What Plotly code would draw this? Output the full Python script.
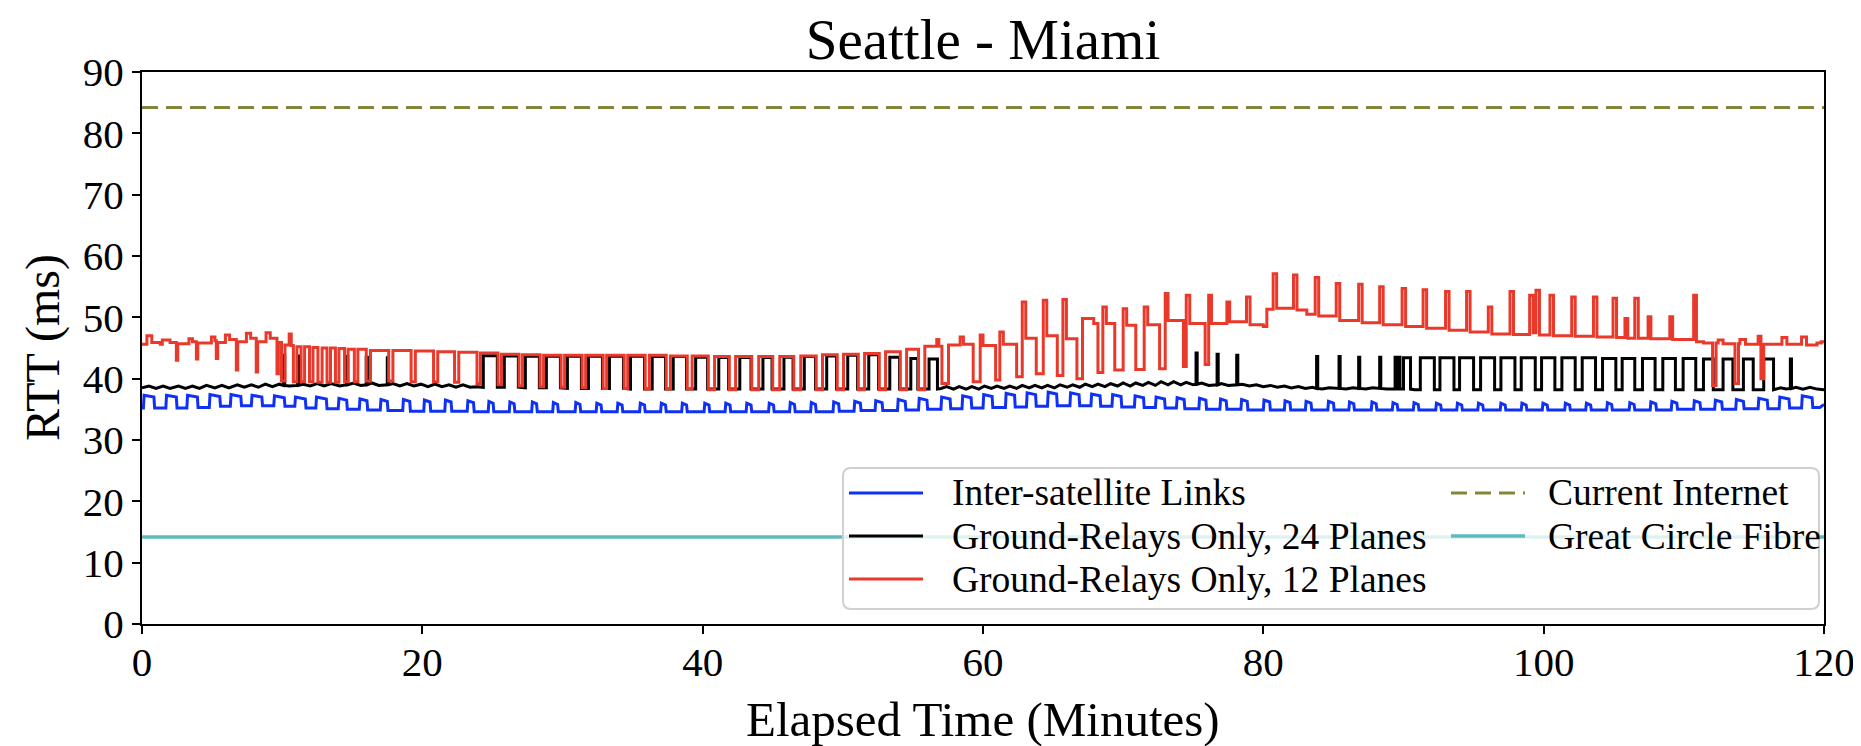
import plotly.graph_objects as go

# ------------------------------------------------------------------ data
title_text = "Seattle - Miami"
x_title = "Elapsed Time (Minutes)"
y_title = "RTT (ms)"
x_ticks = [0, 20, 40, 60, 80, 100, 120]
y_ticks = [0, 10, 20, 30, 40, 50, 60, 70, 80, 90]

series_names = ["Inter-satellite Links", "Ground-Relays Only, 24 Planes",
                "Ground-Relays Only, 12 Planes", "Current Internet", "Great Circle Fibre"]

current_internet_ms = 84.2
great_circle_fibre_ms = 14.2

# Inter-satellite links: one entry per bump (rise time, top value, base value, top duration)
isl_rise = [0.1, 1.7, 3.2, 4.8, 6.3, 7.8, 9.4, 10.9, 12.4, 14.0,
            15.5, 17.0, 18.6, 20.1, 21.6, 23.2, 24.7, 26.2, 27.8, 29.3,
            30.9, 32.4, 33.9, 35.5, 37.0, 38.5, 40.1, 41.6, 43.1, 44.7,
            46.2, 47.7, 49.3, 50.8, 52.3, 53.9, 55.4, 57.0, 58.5, 60.0,
            61.6, 63.1, 64.6, 66.2, 67.7, 69.2, 70.8, 72.3, 73.8, 75.4,
            76.9, 78.4, 80.0, 81.5, 83.0, 84.6, 86.1, 87.7, 89.2, 90.7,
            92.3, 93.8, 95.3, 96.9, 98.4, 99.9, 101.5, 103.0, 104.5, 106.1,
            107.6, 109.1, 110.7, 112.2, 113.7, 115.3, 116.8, 118.4]
isl_top = [37.3, 37.3, 37.3, 37.4, 37.4, 37.3, 37.2, 37.0, 37.0, 36.8,
           36.7, 36.6, 36.6, 36.5, 36.5, 36.4, 36.3, 36.2, 36.2, 36.1,
           36.1, 36.0, 36.0, 36.0, 36.0, 36.0, 36.0, 36.0, 36.0, 36.0,
           36.1, 36.1, 36.2, 36.3, 36.4, 36.6, 36.8, 37.0, 37.2, 37.4,
           37.6, 37.7, 37.8, 37.7, 37.5, 37.4, 37.2, 37.0, 36.9, 36.8,
           36.7, 36.6, 36.5, 36.4, 36.3, 36.3, 36.2, 36.2, 36.1, 36.1,
           36.0, 36.0, 36.0, 36.0, 36.0, 36.0, 36.0, 36.0, 36.1, 36.1,
           36.2, 36.3, 36.4, 36.5, 36.6, 36.8, 37.0, 37.2]
isl_base = [35.2, 35.2, 35.3, 35.5, 35.6, 35.6, 35.5, 35.2, 35.1, 35.0,
            34.9, 34.8, 34.7, 34.7, 34.7, 34.6, 34.6, 34.6, 34.6, 34.6,
            34.6, 34.6, 34.6, 34.6, 34.6, 34.6, 34.6, 34.6, 34.6, 34.6,
            34.6, 34.6, 34.7, 34.8, 34.8, 34.9, 35.0, 35.1, 35.2, 35.3,
            35.4, 35.5, 35.6, 35.6, 35.5, 35.4, 35.3, 35.2, 35.1, 35.0,
            35.0, 34.9, 34.9, 34.9, 34.9, 34.9, 34.9, 34.9, 34.9, 34.9,
            34.9, 34.9, 34.9, 34.9, 34.9, 34.9, 34.9, 34.9, 34.9, 34.9,
            34.9, 35.0, 35.0, 35.0, 35.1, 35.1, 35.2, 35.3]
isl_width = [0.8, 0.8, 0.8, 0.8, 0.8, 0.8, 0.8, 0.8, 0.8, 0.65,
             0.6, 0.55, 0.55, 0.5, 0.5, 0.5, 0.4, 0.4, 0.4, 0.4,
             0.4, 0.4, 0.4, 0.4, 0.4, 0.4, 0.4, 0.4, 0.4, 0.4,
             0.4, 0.4, 0.45, 0.5, 0.55, 0.6, 0.65, 0.7, 0.7, 0.7,
             0.7, 0.7, 0.7, 0.7, 0.7, 0.7, 0.7, 0.7, 0.6, 0.55,
             0.5, 0.5, 0.5, 0.45, 0.45, 0.45, 0.4, 0.4, 0.4, 0.4,
             0.4, 0.4, 0.4, 0.4, 0.4, 0.4, 0.4, 0.4, 0.4, 0.4,
             0.45, 0.45, 0.5, 0.55, 0.6, 0.7, 0.75, 0.8]
isl_start = (0.0, 35.2)
isl_tail = [(119.7, 35.3), (120.0, 35.8)]

# Ground relays, 24 planes: wavy baseline knots (minute, ms)
gr24_knots = [
    (0.0, 38.5), (0.5, 38.8), (1.0, 38.4), (1.5, 38.8), (2.0, 38.4), (2.6, 38.8),
    (3.1, 38.4), (3.6, 38.8), (4.1, 38.4), (4.6, 38.9), (5.2, 38.5), (5.7, 38.9),
    (6.2, 38.5), (6.8, 39.0), (7.3, 38.6), (7.8, 39.0), (8.3, 38.6), (8.8, 39.1),
    (9.3, 38.7), (9.8, 39.1), (10.5, 38.8), (11.5, 39.1), (12.0, 38.8), (12.5, 39.2),
    (13.0, 38.8), (13.5, 39.2), (14.1, 38.8), (15.1, 39.3), (15.6, 38.9), (16.4, 39.3),
    (16.9, 38.9), (17.9, 39.2), (18.4, 38.8), (18.9, 39.2), (19.4, 38.8), (19.9, 39.1),
    (20.4, 38.7), (20.9, 39.1), (21.4, 38.7), (21.9, 39.0), (22.4, 38.6), (22.9, 39.0),
    (23.4, 38.6), (23.9, 38.7),
    (57.0, 38.4), (57.4, 38.7), (57.9, 38.3), (58.3, 38.7), (58.8, 38.3), (59.2, 38.7),
    (59.7, 38.3), (60.1, 38.8), (60.6, 38.4), (61.0, 38.8), (61.5, 38.4), (61.9, 38.8),
    (62.4, 38.4), (62.8, 38.9), (63.3, 38.5), (63.7, 38.9), (64.2, 38.5), (64.6, 38.9),
    (65.1, 38.5), (65.5, 39.0), (66.0, 38.6), (66.4, 39.0), (66.9, 38.6), (67.3, 39.1),
    (67.8, 38.7), (68.2, 39.1), (68.7, 38.7), (69.1, 39.2), (69.6, 38.8), (70.0, 39.3),
    (70.5, 38.8), (70.9, 39.3), (71.4, 38.9), (71.8, 39.4), (72.3, 38.9), (72.7, 39.5),
    (73.2, 39.0), (73.6, 39.5), (74.1, 39.0), (74.5, 39.4), (75.0, 39.0), (75.6, 39.3),
    (76.1, 38.9), (77.0, 39.2), (77.5, 38.9), (78.5, 39.1), (79.0, 38.8), (79.5, 39.0),
    (80.0, 38.7), (80.5, 38.9), (81.0, 38.6), (81.5, 38.8), (82.0, 38.5), (82.5, 38.7),
    (83.0, 38.4), (83.5, 38.6), (84.2, 38.3), (84.7, 38.5), (85.9, 38.3), (86.4, 38.5),
    (87.3, 38.3), (87.8, 38.5), (88.8, 38.3), (90.8, 38.2),
    (116.9, 38.5), (117.3, 38.3), (118.0, 38.6), (118.5, 38.3), (119.0, 38.6),
    (119.5, 38.3), (120.0, 38.2),
]
# Ground relays, 24 planes: pulses (rise minute, fall minute, high ms, low ms)
gr24_rise = [10.1, 11.1, 14.6, 16.0, 17.5,
             24.35, 25.85, 27.35, 28.85, 30.35, 31.85, 33.35, 34.85, 36.4, 37.9, 39.5,
             41.15, 42.65, 44.3, 45.8, 47.25, 48.85, 50.35, 51.85, 53.35, 54.85, 56.15,
             75.2, 76.7, 78.1, 83.8, 85.4, 86.8, 88.3, 89.4, 89.65, 90.0,
             91.2, 92.6, 94.0, 95.5, 96.95, 98.4, 99.85, 101.3, 102.75, 104.2, 105.6,
             107.05, 108.5, 109.95, 111.4, 112.8, 114.25, 115.7, 117.6]
gr24_fall = [10.18, 11.18, 14.68, 16.08, 17.58,
             25.35, 26.85, 28.35, 29.85, 31.35, 32.85, 34.35, 35.85, 37.35, 38.85, 40.35,
             41.85, 43.45, 44.95, 46.45, 48.05, 49.55, 51.05, 52.55, 54.05, 55.35, 56.75,
             75.28, 76.78, 78.18, 83.88, 85.48, 86.88, 88.38, 89.5, 89.75, 90.5,
             92.2, 93.6, 95.0, 96.5, 97.95, 99.4, 100.8, 102.25, 103.7, 105.15, 106.5,
             107.95, 109.4, 110.85, 112.1, 113.5, 114.95, 116.4, 117.68]
gr24_high = [43.8, 43.7, 43.6, 43.5, 43.4,
             43.75, 43.7, 43.65, 43.65, 43.65, 43.65, 43.65, 43.65, 43.6, 43.6, 43.5,
             43.45, 43.45, 43.45, 43.5, 43.6, 43.7, 43.8, 43.9, 43.5, 43.3, 43.2,
             44.2, 44.0, 43.8, 43.6, 43.6, 43.5, 43.5, 43.5, 43.5, 43.4,
             43.4, 43.4, 43.4, 43.4, 43.4, 43.4, 43.4, 43.4, 43.4, 43.3, 43.3,
             43.3, 43.3, 43.3, 43.2, 43.2, 43.2, 43.2, 43.2]
gr24_low = [38.9, 38.9, 39.0, 39.0, 39.0,
            38.6, 38.6, 38.5, 38.5, 38.4, 38.4, 38.4, 38.3, 38.3, 38.3, 38.3,
            38.3, 38.3, 38.3, 38.3, 38.3, 38.3, 38.3, 38.3, 38.3, 38.3, 38.3,
            39.1, 39.0, 39.0, 38.4, 38.4, 38.4, 38.4, 38.3, 38.3, 38.3,
            38.2, 38.2, 38.2, 38.2, 38.2, 38.2, 38.2, 38.2, 38.2, 38.2, 38.2,
            38.2, 38.2, 38.2, 38.2, 38.2, 38.2, 38.2, 38.4]

# Ground relays, 12 planes: step changes (minute, ms) - the value holds until the next step
gr12_steps = [
    (0.0, 45.6), (0.35, 47.0), (0.7, 45.9), (1.3, 45.6), (1.45, 46.3), (2.0, 45.9),
    (2.45, 43.0), (2.55, 45.7), (3.35, 46.5), (3.6, 46.0), (3.88, 43.2), (3.98, 45.8),
    (4.95, 46.8), (5.2, 46.2), (5.3, 43.3), (5.4, 45.9), (5.95, 47.1), (6.25, 46.4),
    (6.73, 41.4), (6.83, 46.0), (7.45, 47.4), (7.75, 46.6), (8.15, 41.1), (8.25, 46.0),
    (8.85, 47.5), (9.15, 46.6), (9.63, 40.8), (9.73, 45.9),
    (9.95, 39.6), (10.2, 45.5), (10.5, 47.3), (10.65, 45.4), (10.8, 39.5), (11.05, 45.2),
    (11.35, 39.5), (11.6, 45.2), (11.95, 39.5), (12.2, 45.1), (12.55, 39.4), (12.85, 45.0),
    (13.2, 39.4), (13.45, 45.0), (13.8, 39.4), (14.05, 44.9), (14.45, 39.5), (14.7, 44.8),
    (15.15, 39.5), (15.4, 44.8),
    (16.0, 39.6), (16.3, 44.6), (17.6, 39.6), (17.9, 44.6), (19.2, 39.5), (19.5, 44.5),
    (20.8, 39.5), (21.1, 44.4), (22.3, 39.4), (22.6, 44.3), (23.9, 39.2), (24.15, 44.2),
    (25.4, 39.0), (25.65, 44.0), (26.9, 38.8), (27.15, 43.9), (28.4, 38.7), (28.65, 43.8),
    (29.9, 38.6), (30.15, 43.8), (31.4, 38.5), (31.65, 43.8), (32.9, 38.4), (33.15, 43.8),
    (34.4, 38.4), (34.65, 43.8), (35.9, 38.3), (36.2, 43.8), (37.4, 38.3), (37.7, 43.7),
    (38.9, 38.3), (39.25, 43.7), (40.4, 38.2), (40.85, 43.6), (41.9, 38.2), (42.35, 43.6),
    (43.5, 38.2), (44.0, 43.6), (45.0, 38.2), (45.5, 43.6), (46.5, 38.2), (47.0, 43.7),
    (48.1, 38.2), (48.55, 43.9), (49.6, 38.2), (50.05, 44.0), (51.1, 38.2), (51.55, 44.1),
    (52.6, 38.2), (53.05, 44.4), (54.1, 38.2), (54.55, 44.8), (55.4, 38.2), (55.85, 45.3),
    (56.7, 46.4), (56.85, 45.3),
    (57.07, 39.2), (57.54, 45.5), (58.37, 46.8), (58.6, 45.6), (59.3, 39.5), (59.8, 47.1),
    (60.0, 45.4), (60.9, 39.8), (61.2, 47.6), (61.45, 45.6), (62.4, 40.3), (62.8, 52.5),
    (63.05, 46.6), (63.8, 40.8), (64.3, 52.8), (64.55, 47.0), (65.3, 40.5), (65.7, 52.9),
    (65.95, 46.5), (66.7, 40.0), (67.1, 49.8), (67.9, 49.0), (68.2, 41.0), (68.55, 51.7),
    (68.8, 49.0), (69.4, 41.4), (70.0, 51.4), (70.25, 48.7), (70.9, 41.5), (71.5, 51.7),
    (71.75, 48.8), (72.6, 41.6), (73.0, 53.9), (73.2, 49.5), (74.3, 42.0), (74.5, 53.6),
    (74.75, 49.0), (75.85, 42.3), (76.1, 53.6), (76.3, 49.0), (77.4, 52.5), (77.6, 49.3),
    (78.8, 53.3), (79.05, 48.8), (80.0, 48.5), (80.25, 51.3), (80.7, 57.1), (80.95, 51.5),
    (82.15, 56.9), (82.4, 51.2), (83.1, 50.5), (83.7, 56.5), (83.95, 50.2), (85.2, 55.5),
    (85.45, 49.5), (86.8, 55.4), (87.05, 49.1), (88.3, 55.0), (88.55, 48.8), (89.9, 54.7),
    (90.15, 48.5), (91.4, 54.5), (91.65, 48.2), (93.0, 54.2), (93.25, 47.9), (94.5, 54.2),
    (94.75, 47.6), (96.05, 51.7), (96.3, 47.3), (97.6, 54.2), (97.85, 47.2), (99.0, 53.6),
    (99.25, 47.5), (99.45, 54.4), (99.7, 47.1), (100.45, 53.6), (100.7, 47.0), (102.0, 53.3),
    (102.25, 46.9), (103.55, 53.3), (103.8, 46.8), (104.95, 53.1), (105.2, 46.7), (105.8, 49.8),
    (106.0, 46.6), (106.5, 53.1), (106.75, 46.6), (107.45, 50.1), (107.65, 46.5), (109.0, 50.1),
    (109.2, 46.4), (110.7, 53.6), (110.9, 46.0), (111.4, 45.8), (112.05, 38.9), (112.3, 45.8),
    (112.45, 46.3), (112.8, 45.7), (113.65, 39.2), (113.9, 45.7), (114.0, 46.4), (114.4, 45.6),
    (115.3, 46.9), (115.5, 40.0), (115.7, 45.6), (117.0, 46.7), (117.35, 45.6), (118.4, 46.8),
    (118.75, 45.5), (119.5, 45.8), (119.8, 46.0), (120.0, 46.0),
]

# ------------------------------------------------------------------ style
FONT = "Liberation Serif"
C_ISL = "#0f30f5"
C_GR24 = "#000000"
C_GR12 = "#e8392b"
C_NET = "#85853a"
C_GCF = "#5dbdbe"
LW = 3.0

W, H = 1861, 746
L, R, T, B = 134, 45, 64, 130
PW, PH = W - L - R, H - T - B


def px_x(px):
    return (px - L) / PW


def px_y(py):
    return (H - B - py) / PH


# ------------------------------------------------------------------ build series
isl_x, isl_y = [isl_start[0]], [isl_start[1]]
prev = isl_start[1]
for r, top, base, w in zip(isl_rise, isl_top, isl_base, isl_width):
    isl_x += [r, r + 0.05, r + w - 0.05, r + w]
    isl_y += [prev, top, top - 0.3, base]
    prev = base
isl_x += [p[0] for p in isl_tail]
isl_y += [p[1] for p in isl_tail]

gr24_pts = list(gr24_knots)
for r, f, hi, lo in zip(gr24_rise, gr24_fall, gr24_high, gr24_low):
    gr24_pts += [(r, lo), (r, hi), (f, hi), (f, lo)]
gr24_pts = sorted(gr24_pts, key=lambda p: p[0])
gr24_x = [p[0] for p in gr24_pts]
gr24_y = [p[1] for p in gr24_pts]

gr12_x = [p[0] for p in gr12_steps]
gr12_y = [p[1] for p in gr12_steps]

fig = go.Figure()
fig.add_trace(go.Scatter(x=isl_x, y=isl_y, mode="lines", name=series_names[0],
                         line=dict(color=C_ISL, width=LW), showlegend=False))
fig.add_trace(go.Scatter(x=gr24_x, y=gr24_y, mode="lines", name=series_names[1],
                         line=dict(color=C_GR24, width=LW), showlegend=False))
fig.add_trace(go.Scatter(x=gr12_x, y=gr12_y, mode="lines", name=series_names[2],
                         line=dict(color=C_GR12, width=LW, shape="hv"), showlegend=False))
fig.add_trace(go.Scatter(x=[x_ticks[0], x_ticks[-1]], y=[current_internet_ms] * 2, mode="lines",
                         name=series_names[3],
                         line=dict(color=C_NET, width=LW, dash="16px,8px"), showlegend=False))
fig.add_trace(go.Scatter(x=[x_ticks[0], x_ticks[-1]], y=[great_circle_fibre_ms] * 2, mode="lines",
                         name=series_names[4],
                         line=dict(color=C_GCF, width=LW + 0.5), showlegend=False))

# ------------------------------------------------------------------ custom legend (matplotlib-like)
bx0, bx1, by0, by1, rad = 835, 1811, 460, 601, 8
rx, ry = rad / PW, rad / PH
X0, X1, Y0, Y1 = px_x(bx0), px_x(bx1), px_y(by1), px_y(by0)
box_path = (f"M{X0 + rx},{Y0} L{X1 - rx},{Y0} Q{X1},{Y0} {X1},{Y0 + ry} "
            f"L{X1},{Y1 - ry} Q{X1},{Y1} {X1 - rx},{Y1} L{X0 + rx},{Y1} "
            f"Q{X0},{Y1} {X0},{Y1 - ry} L{X0},{Y0 + ry} Q{X0},{Y0} {X0 + rx},{Y0} Z")
shapes = [dict(type="path", path=box_path, xref="paper", yref="paper", layer="above",
               fillcolor="rgba(255,255,255,0.8)", line=dict(color="#d0d0d0", width=2))]

col1_sym, col1_txt, col2_sym, col2_txt = 841, 942, 1443, 1538
rows = [485, 528, 571]
legend_items = [
    (series_names[0], C_ISL, "solid", col1_sym, col1_txt, rows[0]),
    (series_names[1], C_GR24, "solid", col1_sym, col1_txt, rows[1]),
    (series_names[2], C_GR12, "solid", col1_sym, col1_txt, rows[2]),
    (series_names[3], C_NET, "dash", col2_sym, col2_txt, rows[0]),
    (series_names[4], C_GCF, "solid", col2_sym, col2_txt, rows[1]),
]
annotations = []
for name, col, dash, sx, tx, sy in legend_items:
    shapes.append(dict(type="line", xref="paper", yref="paper", layer="above",
                       x0=px_x(sx), x1=px_x(sx + 74), y0=px_y(sy), y1=px_y(sy),
                       line=dict(color=col, width=LW + (0.5 if col == C_GCF else 0),
                                 dash="16px,8px" if dash == "dash" else "solid")))
    annotations.append(dict(text=name, xref="paper", yref="paper", x=px_x(tx), y=px_y(sy),
                            xanchor="left", yanchor="middle", showarrow=False,
                            font=dict(family=FONT, size=37.5, color="black")))

annotations.append(dict(text=x_title, xref="paper", yref="paper", x=0.5, y=px_y(711),
                        xanchor="center", yanchor="middle", showarrow=False,
                        font=dict(family=FONT, size=49, color="black")))
annotations.append(dict(text=y_title, xref="paper", yref="paper", x=px_x(35), y=0.5,
                        xanchor="center", yanchor="middle", showarrow=False, textangle=-90,
                        font=dict(family=FONT, size=48, color="black")))

axis_common = dict(showgrid=False, zeroline=False, showline=True, linecolor="black",
                   linewidth=2, mirror=True, ticks="outside", ticklen=8, tickwidth=2,
                   tickcolor="black", tickfont=dict(family=FONT, size=41, color="black"))

fig.update_layout(
    width=W, height=H,
    margin=dict(l=L, r=R, t=T, b=B),
    paper_bgcolor="white", plot_bgcolor="white",
    title=dict(text=title_text, x=(L + PW / 2) / W, xanchor="center",
               y=1 - 31 / H, yanchor="middle",
               font=dict(family=FONT, size=57, color="black")),
    xaxis=dict(range=[x_ticks[0], x_ticks[-1]], tickvals=x_ticks, ticklabelstandoff=-7,
               **axis_common),
    yaxis=dict(range=[y_ticks[0], y_ticks[-1]], tickvals=y_ticks, **axis_common),
    shapes=shapes,
    annotations=annotations,
    showlegend=False,
)

fig.write_html("out.html")
